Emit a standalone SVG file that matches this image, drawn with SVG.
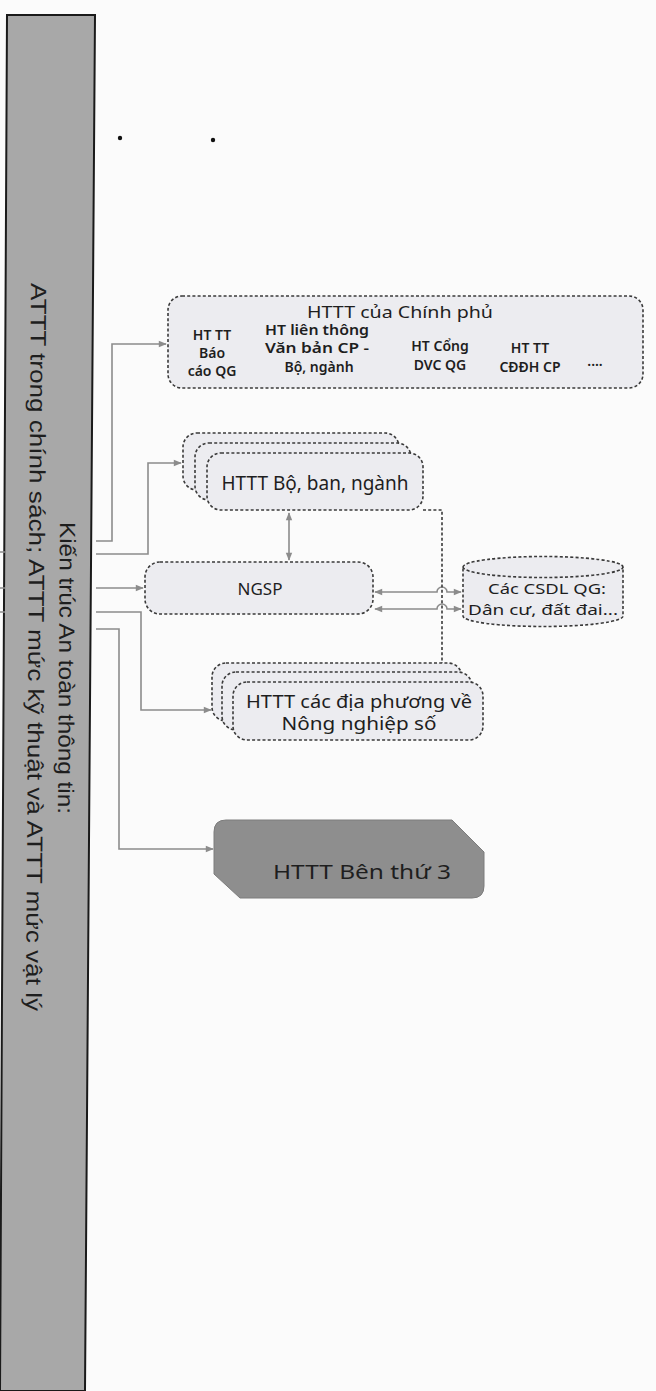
<svg xmlns="http://www.w3.org/2000/svg" width="656" height="1391" viewBox="0 0 656 1391">
<defs>
<style>
.box{fill:#ececf0;stroke:#3a3a3a;stroke-width:1.6;stroke-dasharray:3 2.2}
.dark{fill:#8e8e8e;stroke:#7c7c7c;stroke-width:1}
.t{font-family:"Noto Sans","DejaVu Sans",sans-serif;fill:#1e1e1e;text-anchor:middle}
.col{font-size:14px;font-weight:600}
.con{fill:none;stroke:#8c8c8c;stroke-width:1.6}
.dl{fill:none;stroke:#3a3a3a;stroke-width:1.6;stroke-dasharray:3 2.2}
.bar{font-family:"Liberation Sans",Arial,sans-serif;font-size:22px;fill:#1e1e1e}
</style>
<marker id="ah" viewBox="0 0 10 10" refX="9" refY="5" markerWidth="9" markerHeight="8" orient="auto-start-reverse" markerUnits="userSpaceOnUse">
<path d="M0,1 L10,5 L0,9 z" fill="#8c8c8c"/>
</marker>
</defs>
<rect width="656" height="1391" fill="#fbfbfb"/>

<g id="bar">
<polygon points="7,15 95,15 85,1391 0,1391" fill="#a8a8a8" stroke="#1a1a1a" stroke-width="2"/>
<text class="bar" transform="translate(60,522) rotate(90.4)" textLength="292" lengthAdjust="spacingAndGlyphs">Kiến trúc An toàn thông tin:</text>
<text class="bar" transform="translate(31,283) rotate(90.4)" textLength="728" lengthAdjust="spacingAndGlyphs">ATTT trong chính sách; ATTT mức kỹ thuật và ATTT mức vật lý</text>
</g>

<g id="dots">
<circle cx="120" cy="138" r="2.2" fill="#111"/>
<circle cx="213" cy="140" r="2.2" fill="#111"/>
</g>

<g id="connectors">
<path class="con" d="M96,541 H112 V344 H166" marker-end="url(#ah)"/>
<path class="con" d="M96,554 H148 V463 H181" marker-end="url(#ah)"/>
<path class="con" d="M96,588 H143" marker-end="url(#ah)"/>
<path class="con" d="M96,612 H141 V710 H211" marker-end="url(#ah)"/>
<path class="con" d="M96,629 H119 V849 H213" marker-end="url(#ah)"/>
<path class="con" d="M0,552 H5 M0,588 H5 M0,612 H5"/>
<path class="con" d="M289,513 V560" marker-start="url(#ah)" marker-end="url(#ah)"/>
<path class="con" d="M375,592 H437 A5,5 0 0 1 447,592 H461" marker-start="url(#ah)" marker-end="url(#ah)"/>
<path class="con" d="M375,609 H437 A5,5 0 0 1 447,609 H461" marker-start="url(#ah)" marker-end="url(#ah)"/>
<path class="dl" d="M423,510 H442 V663"/>
</g>

<g id="node-chinhphu">
<rect class="box" x="168" y="296" width="475" height="92" rx="14"/>
<text class="t" x="400" y="318" font-size="17" textLength="186" lengthAdjust="spacingAndGlyphs">HTTT  của Chính phủ</text>
<text class="t col"><tspan x="212" y="340">HT TT</tspan><tspan x="212" y="358">Báo</tspan><tspan x="212" y="376">cáo QG</tspan></text>
<text class="t col" x="317" y="335" textLength="104" lengthAdjust="spacingAndGlyphs">HT liên thông</text>
<text class="t col" x="317" y="353" textLength="104" lengthAdjust="spacingAndGlyphs">Văn bản CP -</text>
<text class="t col" x="319" y="372">Bộ, ngành</text>
<text class="t col"><tspan x="440" y="351">HT Cổng</tspan><tspan x="440" y="370">DVC QG</tspan></text>
<text class="t col"><tspan x="530" y="353">HT TT</tspan><tspan x="530" y="372">CĐĐH CP</tspan></text>
<text class="t col" x="595" y="370">····</text>
</g>

<g id="node-bo">
<rect class="box" x="183" y="433" width="216" height="57" rx="14"/>
<rect class="box" x="195" y="443" width="216" height="57" rx="14"/>
<rect class="box" x="207" y="453" width="216" height="57" rx="14"/>
<text class="t" x="315" y="490" font-size="19">HTTT Bộ, ban, ngành</text>
</g>

<g id="node-ngsp">
<rect class="box" x="145" y="562" width="228" height="52" rx="15"/>
<text class="t" x="260" y="595" font-size="17">NGSP</text>
</g>

<g id="node-csdl">
<path class="box" d="M463,567 A80,10.5 0 0 1 623,567 V616 A80,10.5 0 0 1 463,616 Z"/>
<path class="dl" d="M463,567 A80,10.5 0 0 0 623,567"/>
<text class="t" x="547" y="594" font-size="14.5" textLength="118" lengthAdjust="spacingAndGlyphs">Các CSDL QG:</text>
<text class="t" x="543" y="615" font-size="14.5" textLength="150" lengthAdjust="spacingAndGlyphs">Dân cư, đất đai...</text>
</g>

<g id="node-diaphuong">
<rect class="box" x="212" y="663" width="250" height="58" rx="14"/>
<rect class="box" x="222" y="672" width="250" height="58" rx="14"/>
<rect class="box" x="233" y="682" width="250" height="58" rx="14"/>
<text class="t" x="359" y="708" font-size="18" textLength="226" lengthAdjust="spacingAndGlyphs">HTTT các địa phương về</text>
<text class="t" x="359" y="730" font-size="18" textLength="155" lengthAdjust="spacingAndGlyphs">Nông nghiệp số</text>
</g>

<g id="node-benthu3">
<path class="dark" d="M226,820 H452 L484,852 V886 Q484,898 472,898 H240 L214,874 V832 Q214,820 226,820 Z"/>
<text class="t" x="362" y="879" font-size="20" fill="#151515" textLength="178" lengthAdjust="spacingAndGlyphs">HTTT Bên thứ 3</text>
</g>
</svg>
